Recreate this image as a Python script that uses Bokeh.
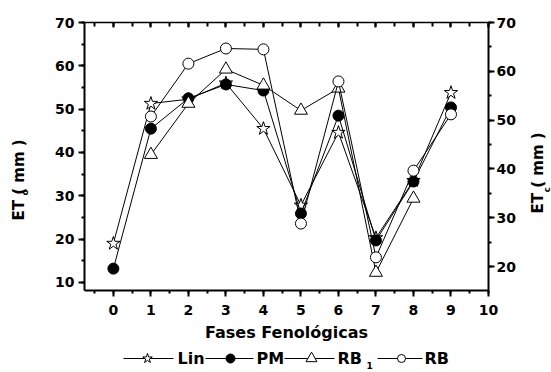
import math
from bokeh.plotting import figure
from bokeh.layouts import column
from bokeh.models import (Range1d, LinearAxis, SingleIntervalTicker, Label)
from bokeh.core.properties import value
from bokeh.embed import file_html
from bokeh.resources import INLINE

# ---- data ----
phases = [0, 1, 2, 3, 4, 5, 6, 7, 8, 9]
lin = [19.0, 51.3, 52.3, 56.0, 45.5, 27.8, 44.6, 20.3, 33.5, 53.8]
pm = [13.2, 45.5, 52.5, 55.7, 54.3, 25.9, 48.5, 19.7, 33.3, 50.4]
rb1_phases = [1, 2, 3, 4, 5, 6, 7, 8]
rb1 = [39.5, 51.3, 59.2, 55.5, 49.7, 54.8, 12.3, 29.4]
rb_phases = [1, 2, 3, 4, 5, 6, 7, 8, 9]
rb = [48.3, 60.5, 64.0, 63.8, 23.6, 56.4, 15.8, 35.8, 48.8]

series_names = ["Lin", "PM", "RB", "RB"]
series_subs = ["", "", "1", ""]
x_label = "Fases Fenológicas"
left_label = ["ET  ( mm )", "o"]
right_label = ["ET  ( mm )", "c"]

FONT = "DejaVu Sans"

p = figure(width=551, height=344, x_range=Range1d(-0.77, 10),
           y_range=Range1d(8.15, 70), output_backend="svg",
           toolbar_location=None, min_border_left=84, min_border_right=63,
           min_border_top=22, min_border_bottom=54)
p.extra_y_ranges = {"right": Range1d(15.1, 70)}
p.grid.visible = False
p.outline_line_color = None
p.background_fill_color = "white"
p.border_fill_color = "white"

def style(ax):
    ax.axis_line_width = 2
    ax.axis_line_color = "black"
    ax.major_tick_line_width = 2
    ax.minor_tick_line_width = 2
    ax.major_tick_line_color = "black"
    ax.minor_tick_line_color = "black"
    ax.major_label_text_font = FONT
    ax.major_label_text_font_style = "bold"
    ax.major_label_text_font_size = "14px"
    ax.major_label_text_color = "black"

xa = p.xaxis[0]
xa.ticker = SingleIntervalTicker(interval=1, num_minor_ticks=2)
style(xa)
xa.major_tick_out = 6
xa.major_tick_in = 0
xa.minor_tick_out = 3
xa.minor_tick_in = 0
xa.major_label_standoff = 8
xa.axis_label = x_label
xa.axis_label_text_font = FONT
xa.axis_label_text_font_style = "bold"
xa.axis_label_text_font_size = "16px"
xa.axis_label_text_color = "black"
xa.axis_label_standoff = 5

ya = p.yaxis[0]
ya.ticker = SingleIntervalTicker(interval=10, num_minor_ticks=2)
style(ya)
ya.major_tick_out = 6
ya.major_tick_in = 0
ya.minor_tick_out = 3
ya.minor_tick_in = 0
ya.major_label_standoff = 4

ra = LinearAxis(y_range_name="right",
                ticker=SingleIntervalTicker(interval=10, num_minor_ticks=2))
style(ra)
ra.major_tick_out = 6
ra.major_tick_in = 0
ra.minor_tick_out = 3
ra.minor_tick_in = 0
ra.major_label_standoff = 2
p.add_layout(ra, "right")

ta = LinearAxis(ticker=SingleIntervalTicker(interval=1, num_minor_ticks=2))
style(ta)
ta.major_tick_out = 0
ta.major_tick_in = 5
ta.minor_tick_out = 0
ta.minor_tick_in = 4
ta.major_label_text_color = None
ta.major_label_text_font_size = "1px"
ta.major_label_standoff = 0
ta.axis_line_width = 1.5
p.add_layout(ta, "above")

# ---- series ----
styles = [("star", "white", 14), ("circle", "black", 11),
          ("triangle", "white", 13), ("circle", "white", 11)]
data = [(phases, lin), (phases, pm), (rb1_phases, rb1), (rb_phases, rb)]

for (xs, ys), (mk, fill, size) in zip(data, styles):
    p.line(xs, ys, line_color="black", line_width=1)
    p.scatter(xs, ys, marker=mk, size=size, fill_color=fill,
              line_color="black", line_width=1)

# ---- rotated y-axis titles (in the side panels) ----
def ylabel(parts, side, x, y0, xsub, ysub):
    main = dict(x_units="screen", y_units="screen", angle=math.pi / 2,
                text_font=FONT, text_font_style="bold", text_font_size="15px",
                text_align="left", text_baseline="middle", text_color="black")
    p.add_layout(Label(x=x, y=y0, text=parts[0], **main), side)
    sub = dict(main)
    sub["text_font_size"] = "9px"
    p.add_layout(Label(x=xsub, y=ysub, text=parts[1], **sub), side)

ylabel(left_label, "left", -16, 70, 0, 95)
ylabel(right_label, "right", 19, 77, 10, 98)

# ---- legend strip below the plot (coordinates = page pixels) ----
q = figure(width=551, height=28, x_range=Range1d(84, 488),
           y_range=Range1d(372, 344), output_backend="svg",
           toolbar_location=None, min_border_left=84, min_border_right=63,
           min_border_top=0, min_border_bottom=0,
           x_axis_location=None, y_axis_location=None)
q.grid.visible = False
q.outline_line_color = None
q.background_fill_color = "white"
q.border_fill_color = "white"

LEG_Y = 358
seg_x0 = [123, 205, 284, 377]
seg_x1 = [173, 253, 334, 422]
mark_x = [147, 230, 311, 401]
mark_size = [10, 9, 11, 8]
text_x = [177, 256, 337, 424]

q.segment(x0=seg_x0, y0=[LEG_Y] * 4, x1=seg_x1, y1=[LEG_Y] * 4,
          line_color="black", line_width=1)
for i, (mk, fill, _) in enumerate(styles):
    q.scatter([mark_x[i]], [LEG_Y], marker=mk, size=mark_size[i],
              fill_color=fill, line_color="black", line_width=1)
q.text(x=text_x, y=[LEG_Y] * 4, text=series_names,
       text_font=value(FONT), text_font_style="bold",
       text_font_size="16px", text_align="left", text_baseline="middle",
       text_color="black")
q.text(x=[366], y=[365], text=[series_subs[2]], text_font=value(FONT),
       text_font_style="bold", text_font_size="9px", text_align="left",
       text_baseline="middle", text_color="black")

open("out.html", "w").write(file_html(column(p, q), INLINE))
